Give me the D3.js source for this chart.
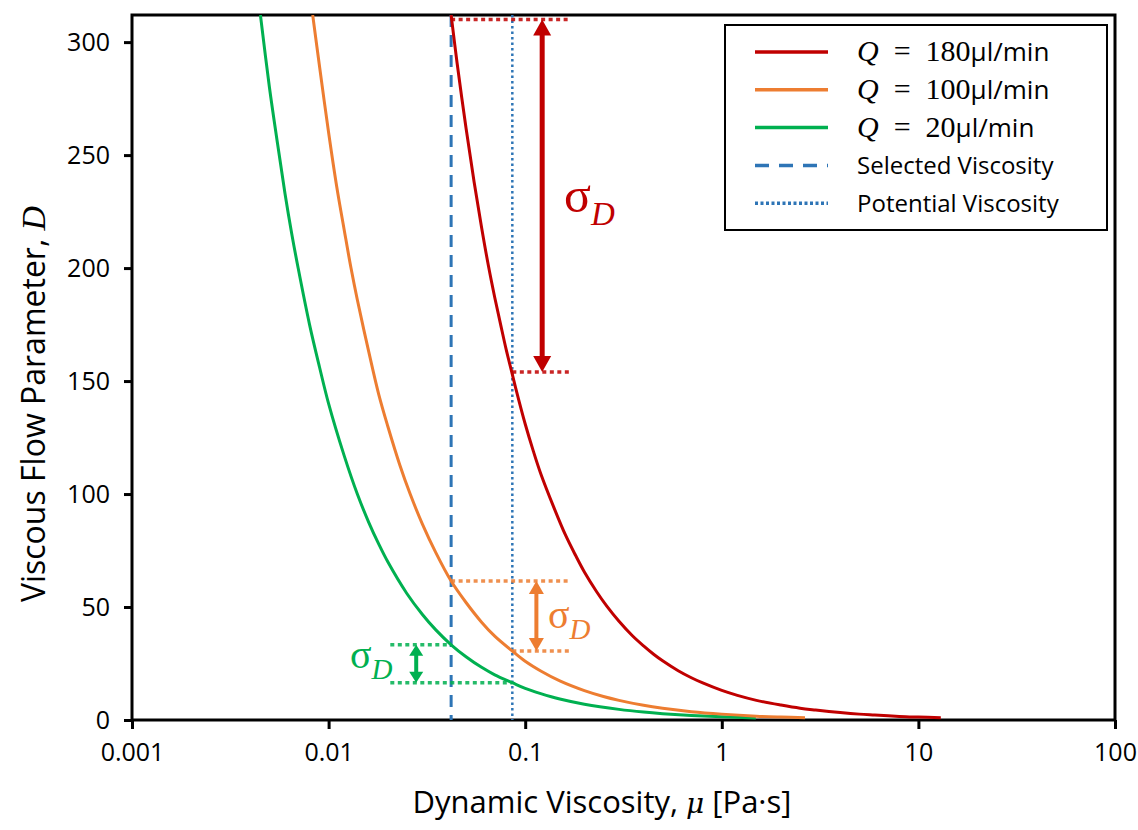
<!DOCTYPE html>
<html>
<head>
<meta charset="utf-8">
<script src="https://cdn.jsdelivr.net/npm/d3@7"></script>
<style>
  body { margin: 0; background: #fff; }
  text { font-family: "Open Sans", sans-serif; fill: #000; }
</style>
</head>
<body>
<div id="chart"></div>
<script>
// curves: dynamic viscosity (Pa.s) and D
var redMu = [0.042, 0.045, 0.05, 0.055, 0.06, 0.065, 0.07, 0.075, 0.08, 0.086, 0.09, 0.1, 0.11, 0.12, 0.14, 0.16, 0.18, 0.2, 0.23, 0.26, 0.3, 0.35, 0.4, 0.45, 0.5, 0.6, 0.7, 0.8, 1, 1.2, 1.5, 2, 2.5, 3, 4, 5, 6, 8, 10, 13];
var redD = [312, 291, 262, 238, 218, 201, 187, 175, 164, 153, 146, 131, 119, 109, 94, 82, 73, 65.5, 57, 50.4, 43.7, 37.4, 32.8, 29.1, 26.2, 21.8, 18.7, 16.4, 13.1, 10.9, 8.7, 6.6, 5.2, 4.4, 3.3, 2.6, 2.2, 1.6, 1.3, 1.0];
var orangeMu = [0.0083, 0.009, 0.01, 0.011, 0.012, 0.013, 0.014, 0.016, 0.018, 0.02, 0.023, 0.026, 0.03, 0.035, 0.042, 0.05, 0.06, 0.07, 0.086, 0.1, 0.12, 0.15, 0.2, 0.25, 0.3, 0.4, 0.5, 0.7, 1, 1.5, 2, 2.65];
var orangeD = [312, 289, 260, 236, 217, 200, 186, 163, 144, 130, 113, 100, 86.7, 74.3, 61.5, 52, 43.3, 37.1, 30.5, 26, 21.7, 17.3, 13, 10.4, 8.7, 6.5, 5.2, 3.7, 2.6, 1.7, 1.3, 1.0];
var greenMu = [0.0045, 0.005, 0.0055, 0.006, 0.0065, 0.007, 0.008, 0.009, 0.01, 0.012, 0.014, 0.016, 0.018, 0.02, 0.025, 0.03, 0.035, 0.042, 0.05, 0.06, 0.07, 0.086, 0.1, 0.12, 0.15, 0.2, 0.3, 0.4, 0.5, 0.7, 1, 1.49];
var greenD = [312, 280, 255, 233, 215, 200, 175, 156, 140, 117, 100, 87.5, 77.8, 70, 56, 46.7, 40, 33.3, 28, 23.3, 20, 16.5, 14, 11.7, 9.3, 7, 4.7, 3.5, 2.8, 2, 1.4, 0.94];

var selectedMu = 0.042;
var potentialMu = 0.086;

// sigma_D spans: [D at selected, D at potential]
var sigmaRed = [310, 154];
var sigmaOrange = [61.5, 30.5];
var sigmaGreen = [33.3, 16.5];

var xTicks = [0.001, 0.01, 0.1, 1, 10, 100];
var xTickLabels = ["0.001", "0.01", "0.1", "1", "10", "100"];
var yTicks = [0, 50, 100, 150, 200, 250, 300];

var legendLabels = ["180", "100", "20"];

var margin = { top: 15, right: 23, bottom: 110, left: 132 };
var width = 1138 - margin.left - margin.right,
  height = 830 - margin.top - margin.bottom;

var svg = d3
  .select("#chart")
  .append("svg")
  .attr("width", 1138)
  .attr("height", 830);

var g = svg
  .append("g")
  .attr("transform", "translate(" + margin.left + "," + margin.top + ")");

var x = d3.scaleLog().domain([0.001, 100]).range([0, width]);
var y = d3.scaleLinear().domain([0, 312]).range([height, 0]);

var red = "#C00000", orange = "#ED7D31", green = "#00B050", blue = "#2E75B6";

g.append("clipPath")
  .attr("id", "plotclip")
  .append("rect")
  .attr("width", width)
  .attr("height", height);

// axes
var xAxis = d3.axisBottom(x).tickValues(xTicks).tickSize(9).tickPadding(14)
  .tickFormat(function (d, i) { return xTickLabels[i]; });
var yAxis = d3.axisLeft(y).tickValues(yTicks).tickSize(8).tickPadding(14);

var gx = g.append("g").attr("transform", "translate(0," + height + ")").call(xAxis);
var gy = g.append("g").call(yAxis);
[gx, gy].forEach(function (a) {
  a.select(".domain").remove();
  a.selectAll(".tick line").attr("stroke", "#000").attr("stroke-width", 3);
  a.selectAll(".tick text").style("font-size", "25px").style("font-family", "'Open Sans', sans-serif").attr("fill", "#000");
});
gx.selectAll(".tick text").attr("dy", "0.71em");

// frame
g.append("rect")
  .attr("width", width)
  .attr("height", height)
  .attr("fill", "none")
  .attr("stroke", "#000")
  .attr("stroke-width", 3);

// axis titles
var xt = svg.append("text")
  .attr("x", 602)
  .attr("y", 813)
  .attr("text-anchor", "middle")
  .style("font-size", "31px");
xt.append("tspan").text("Dynamic Viscosity, ");
xt.append("tspan").style("font-family", "'DejaVu Serif', serif").style("font-style", "italic").style("font-size", "28px").text("μ");
xt.append("tspan").text(" [Pa·s]");

var yt = svg.append("text")
  .attr("transform", "translate(45,404)rotate(-90)")
  .attr("text-anchor", "middle")
  .style("font-size", "32px");
yt.append("tspan").text("Viscous Flow Parameter, ");
yt.append("tspan").style("font-family", "'Liberation Serif', serif").style("font-style", "italic").style("font-size", "34px").text("D");

// curves
var line = d3.line()
  .x(function (d) { return x(d[0]); })
  .y(function (d) { return y(d[1]); })
  .curve(d3.curveCatmullRom.alpha(0.5));

var plot = g.append("g").attr("clip-path", "url(#plotclip)");

// viscosity markers
plot.append("line")
  .attr("x1", x(selectedMu)).attr("x2", x(selectedMu))
  .attr("y1", 0).attr("y2", height)
  .attr("stroke", blue).attr("stroke-width", 3)
  .attr("stroke-dasharray", "12,8");
plot.append("line")
  .attr("x1", x(potentialMu)).attr("x2", x(potentialMu))
  .attr("y1", 0).attr("y2", height)
  .attr("stroke", blue).attr("stroke-width", 2.5)
  .attr("stroke-dasharray", "2.5,3");

var series = [
  { mu: greenMu, d: greenD, color: green },
  { mu: orangeMu, d: orangeD, color: orange },
  { mu: redMu, d: redD, color: red }
];
series.forEach(function (s) {
  plot.append("path")
    .datum(d3.zip(s.mu, s.d))
    .attr("d", line)
    .attr("fill", "none")
    .attr("stroke", s.color)
    .attr("stroke-width", 3);
});

// sigma annotations
function dotted(x1, x2, d, color) {
  plot.append("line")
    .attr("x1", x(x1)).attr("x2", x(x2))
    .attr("y1", y(d)).attr("y2", y(d))
    .attr("stroke", color).attr("stroke-width", 3.5)
    .attr("stroke-dasharray", "4,3.5").attr("opacity", 0.85);
}
function arrow(mu, d1, d2, color, w, head, hw) {
  var ax = x(mu), top = y(d1), bot = y(d2);
  g.append("line")
    .attr("x1", ax).attr("x2", ax)
    .attr("y1", top + head - 1).attr("y2", bot - head + 1)
    .attr("stroke", color).attr("stroke-width", w);
  g.append("path")
    .attr("d", "M" + ax + "," + top + "L" + (ax - hw) + "," + (top + head) + "L" + (ax + hw) + "," + (top + head) + "Z")
    .attr("fill", color);
  g.append("path")
    .attr("d", "M" + ax + "," + bot + "L" + (ax - hw) + "," + (bot - head) + "L" + (ax + hw) + "," + (bot - head) + "Z")
    .attr("fill", color);
}
function sigma(px, py, color, big, small) {
  var t = svg.append("text")
    .attr("x", px).attr("y", py)
    .style("fill", color);
  t.append("tspan").style("font-family", "'Liberation Serif', serif").style("font-size", big + "px").text("σ");
  t.append("tspan").attr("dy", small * 0.38).style("font-family", "'Liberation Serif', serif")
    .style("font-style", "italic").style("font-size", small + "px").text("D");
}

dotted(selectedMu, 0.169, sigmaRed[0], red);
dotted(potentialMu, 0.169, sigmaRed[1], red);
arrow(0.122, sigmaRed[0], sigmaRed[1], red, 5, 16, 9);
sigma(564, 212, red, 50, 33);

dotted(selectedMu, 0.169, sigmaOrange[0], orange);
dotted(potentialMu, 0.169, sigmaOrange[1], orange);
arrow(0.114, sigmaOrange[0], sigmaOrange[1], orange, 4, 13, 7.5);
sigma(548, 628, orange, 40, 29);

dotted(0.0206, selectedMu, sigmaGreen[0], green);
dotted(0.0206, potentialMu, sigmaGreen[1], green);
arrow(0.0279, sigmaGreen[0], sigmaGreen[1], green, 4, 11, 7);
sigma(350, 668, green, 40, 29);

// legend
var lg = svg.append("g");
lg.append("rect")
  .attr("x", 725).attr("y", 25)
  .attr("width", 382).attr("height", 205)
  .attr("fill", "#fff").attr("stroke", "#000").attr("stroke-width", 2);

var legendItems = [
  { color: red, dash: null, q: legendLabels[0] },
  { color: orange, dash: null, q: legendLabels[1] },
  { color: green, dash: null, q: legendLabels[2] },
  { color: blue, dash: "14,10", text: "Selected Viscosity" },
  { color: blue, dash: "3,2.5", text: "Potential Viscosity" }
];
legendItems.forEach(function (it, i) {
  var ly = 52 + i * 37.8;
  lg.append("line")
    .attr("x1", 755).attr("x2", 828)
    .attr("y1", ly).attr("y2", ly)
    .attr("stroke", it.color).attr("stroke-width", 3.5)
    .attr("stroke-dasharray", it.dash);
  var t = lg.append("text").attr("x", 857).attr("y", ly + 9).style("font-size", "24px");
  if (it.q) {
    t.append("tspan").style("font-family", "'Liberation Serif', serif").style("font-style", "italic").style("font-size", "30px").text("Q");
    t.append("tspan").style("font-family", "'Liberation Serif', serif").style("font-size", "30px").text("\u2002=\u2002" + it.q);
    t.append("tspan").style("font-size", "26px").text("μl/min");
  } else {
    t.text(it.text);
  }
});
</script>
</body>
</html>
